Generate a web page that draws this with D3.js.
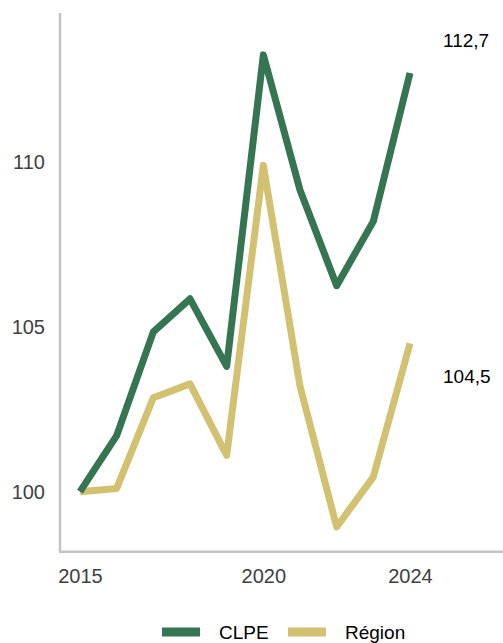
<!DOCTYPE html>
<html>
<head>
<meta charset="utf-8">
<script src="https://cdn.jsdelivr.net/npm/d3@7"></script>
<style>
  body { margin: 0; background: #fff; }
  text { font-family: "Liberation Sans", Arial, sans-serif; }
</style>
</head>
<body>
<div id="chart"></div>
<script>
var width = 503,
  height = 643;

// data
var years = [2015, 2016, 2017, 2018, 2019, 2020, 2021, 2022, 2023, 2024];
var clpe = [100.0, 101.7, 104.85, 105.85, 103.8, 113.25, 109.15, 106.25, 108.2, 112.7];
var region = [100.0, 100.1, 102.85, 103.27, 101.1, 109.9, 103.2, 98.93, 100.45, 104.5];
var yTicks = [100, 105, 110];
var xTicks = [2015, 2020, 2024];
var seriesNames = ["CLPE", "Région"];
var endLabels = ["112,7", "104,5"];

var colors = ["#357552", "#d2c171"];

var svg = d3.select("#chart")
  .append("svg")
  .attr("width", width)
  .attr("height", height);

var x = d3.scaleLinear()
  .domain([2015, 2024])
  .range([80, 410]);

var y = d3.scaleLinear()
  .domain([98.18, 114.52])
  .range([551.7, 13]);

// axes (just the lines + labels, no tick marks)
var yAxis = d3.axisLeft(y)
  .tickValues(yTicks)
  .tickSize(0)
  .tickPadding(15)
  .tickFormat(d3.format("d"));

var xAxis = d3.axisBottom(x)
  .tickValues(xTicks)
  .tickSize(0)
  .tickPadding(17)
  .tickFormat(d3.format("d"));

var gy = svg.append("g")
  .attr("transform", "translate(60,0)")
  .call(yAxis);

var gx = svg.append("g")
  .attr("transform", "translate(0,551.7)")
  .call(xAxis);

gy.select(".domain").remove();
gx.select(".domain").remove();

svg.selectAll(".tick text")
  .attr("font-size", 20)
  .attr("font-family", "Liberation Sans, Arial, sans-serif")
  .attr("fill", "#404040");

// axis lines
svg.append("line")
  .attr("x1", 60).attr("x2", 60)
  .attr("y1", 13).attr("y2", 551.7)
  .attr("stroke", "#c4c4c4")
  .attr("stroke-width", 2.5);

svg.append("line")
  .attr("x1", 59).attr("x2", width)
  .attr("y1", 551.7).attr("y2", 551.7)
  .attr("stroke", "#c4c4c4")
  .attr("stroke-width", 2.5);

var line = d3.line()
  .x(function (d) { return x(d.year); })
  .y(function (d) { return y(d.value); });

var allSeries = [clpe, region];

// Région first, CLPE drawn over it
[1, 0].forEach(function (i) {
  var pts = years.map(function (yr, j) {
    return { year: yr, value: allSeries[i][j] };
  });
  svg.append("path")
    .datum(pts)
    .attr("d", line)
    .attr("fill", "none")
    .attr("stroke", colors[i])
    .attr("stroke-width", 7)
    .attr("stroke-linejoin", "round")
    .attr("stroke-linecap", "butt");
});

// end labels
svg.append("text")
  .attr("x", x(2024) + 33)
  .attr("y", y(clpe[clpe.length - 1]) - 33)
  .attr("dy", "0.35em")
  .attr("font-size", 19)
  .attr("fill", "#000")
  .text(endLabels[0]);

svg.append("text")
  .attr("x", x(2024) + 33)
  .attr("y", y(region[region.length - 1]) + 33)
  .attr("dy", "0.35em")
  .attr("font-size", 19)
  .attr("fill", "#000")
  .text(endLabels[1]);

// legend
var legendX = [162, 288];
var legend = svg.append("g");
seriesNames.forEach(function (name, i) {
  legend.append("rect")
    .attr("x", legendX[i])
    .attr("y", 627.5)
    .attr("width", 38)
    .attr("height", 9)
    .attr("fill", colors[i]);
  legend.append("text")
    .attr("x", legendX[i] + 57)
    .attr("y", 639)
    .attr("font-size", 19)
    .attr("fill", "#000")
    .text(name);
});
</script>
</body>
</html>
